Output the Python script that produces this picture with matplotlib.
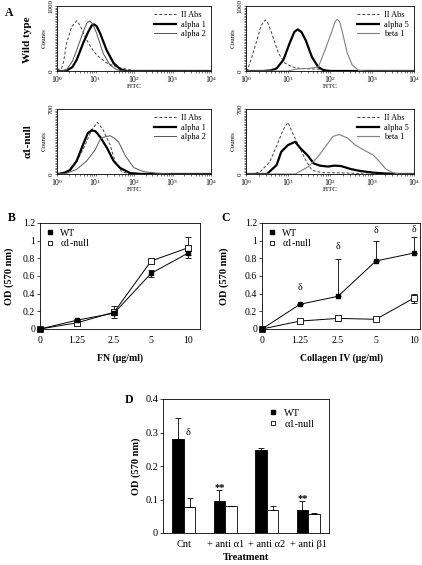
import numpy as np
import matplotlib
matplotlib.use('Agg')
import matplotlib.pyplot as plt
from matplotlib.ticker import MultipleLocator, LogLocator, NullFormatter
from matplotlib.lines import Line2D

plt.rcParams['font.family'] = ['Liberation Serif', 'DejaVu Serif']
plt.rcParams['mathtext.fontset'] = 'stix'

W, H = 422, 565

# ---- panel A: flow histograms (x in decades of FITC, y in counts) ----
# wild type, alpha 1 / alpha 2
wt12_abs_dec = [0, 0.05, 0.12, 0.17, 0.25, 0.38, 0.51, 0.6, 0.77, 0.9, 1.03, 1.29, 1.64, 1.98, 2.3, 4]
wt12_abs_cnt = [10, 30, 40, 140, 430, 680, 774, 700, 477, 350, 246, 123, 46, 10, 0, 0]
wt12_a1_dec = [0, 0.15, 0.25, 0.4, 0.51, 0.68, 0.81, 0.9, 0.96, 1.03, 1.12, 1.29, 1.47, 1.64, 1.8, 4]
wt12_a1_cnt = [0, 0, 5, 60, 170, 430, 600, 700, 718, 690, 580, 320, 120, 30, 0, 0]
wt12_a2_dec = [0, 0.15, 0.25, 0.4, 0.51, 0.68, 0.78, 0.85, 0.93, 1.03, 1.2, 1.38, 1.55, 1.7, 4]
wt12_a2_cnt = [0, 5, 20, 150, 320, 600, 740, 770, 720, 580, 270, 90, 20, 0, 0]

# wild type, alpha 5 / beta 1
wt5b_abs_dec = [0, 0.03, 0.14, 0.26, 0.36, 0.46, 0.52, 0.61, 0.77, 0.92, 1.11, 1.3, 1.6, 1.8, 1.95, 4]
wt5b_abs_cnt = [0, 10, 215, 477, 700, 785, 740, 585, 277, 123, 60, 40, 30, 25, 0, 0]
wt5b_a5_dec = [0, 0.42, 0.6, 0.73, 0.89, 1.04, 1.15, 1.23, 1.32, 1.42, 1.57, 1.72, 1.84, 2.0, 4]
wt5b_a5_cnt = [0, 0, 10, 40, 170, 430, 600, 640, 600, 477, 215, 60, 15, 0, 0]
wt5b_b1_dec = [0, 1.0, 1.2, 1.5, 1.72, 1.88, 2.03, 2.12, 2.17, 2.23, 2.3, 2.41, 2.53, 2.68, 2.85, 4]
wt5b_b1_cnt = [0, 0, 30, 40, 60, 320, 585, 760, 795, 760, 585, 277, 92, 10, 0, 0]

# alpha1-null, alpha 1 / alpha 2
ko12_abs_dec = [0, 0.25, 0.51, 0.73, 0.9, 1.05, 1.2, 1.38, 1.51, 1.68, 1.9, 4]
ko12_abs_cnt = [0, 20, 132, 312, 474, 556, 474, 312, 132, 25, 0, 0]
ko12_a1_dec = [0, 0.03, 0.2, 0.34, 0.51, 0.68, 0.8, 0.9, 1.0, 1.12, 1.3, 1.47, 1.64, 1.9, 2.2, 4]
ko12_a1_cnt = [0, 0, 15, 43, 140, 320, 440, 470, 460, 400, 280, 140, 65, 10, 0, 0]
ko12_a2_dec = [0, 0.25, 0.51, 0.77, 0.99, 1.12, 1.2, 1.3, 1.38, 1.48, 1.6, 1.77, 1.99, 2.25, 2.6, 3.0, 4]
ko12_a2_cnt = [0, 8, 50, 140, 260, 370, 395, 405, 412, 390, 345, 200, 70, 25, 8, 0, 0]

# alpha1-null, alpha 5 / beta 1
ko5b_abs_dec = [0, 0.2, 0.34, 0.57, 0.77, 0.88, 1.0, 1.11, 1.26, 1.42, 1.57, 1.8, 2.5, 2.8, 4]
ko5b_abs_cnt = [0, 5, 25, 132, 347, 474, 556, 440, 300, 150, 40, 15, 10, 0, 0]
ko5b_a5_dec = [0, 0.5, 0.73, 0.84, 1.0, 1.17, 1.3, 1.46, 1.61, 1.76, 1.95, 2.1, 2.26, 2.49, 2.72, 3.03, 3.33, 3.6, 4]
ko5b_a5_cnt = [0, 0, 97, 240, 312, 347, 275, 204, 115, 90, 80, 90, 86, 54, 32, 15, 5, 0, 0]
ko5b_b1_dec = [0, 1.17, 1.49, 1.72, 1.92, 2.07, 2.22, 2.41, 2.6, 2.8, 3.03, 3.18, 3.33, 3.49, 3.65, 4]
ko5b_b1_cnt = [0, 0, 80, 190, 312, 405, 425, 390, 312, 260, 204, 132, 54, 15, 0, 0]

# ---- panels B / C: adhesion curves ----
conc_labels = ['0', '1.25', '2.5', '5', '10']
od_ticks = [0, 0.2, 0.4, 0.6, 0.8, 1.0, 1.2]
od_tick_labels = ['0', '0.2', '0.4', '0.6', '0.8', '1', '1.2']

fn_wt = [0.0, 0.10, 0.18, 0.63, 0.86]
fn_wt_err = [0, 0.01, 0.02, 0.04, 0.02]
fn_null = [0.0, 0.07, 0.19, 0.77, 0.92]
fn_null_err = [0, 0.01, 0.07, 0.02, 0.12]

col_wt = [0.0, 0.28, 0.37, 0.77, 0.86]
col_wt_err = [0, 0.0, 0.42, 0.23, 0.18]
col_null = [0.0, 0.09, 0.12, 0.11, 0.35]
col_null_err = [0, 0.01, 0.03, 0.01, 0.05]

# ---- panel D: antibody blocking ----
treat_labels = ['Cnt', '+ anti \u03b11', '+ anti \u03b12', '+ anti \u03b21']
bar_wt = [0.28, 0.095, 0.247, 0.068]
bar_wt_err = [0.063, 0.032, 0.006, 0.027]
bar_null = [0.078, 0.082, 0.07, 0.057]
bar_null_err = [0.026, 0.0, 0.01, 0.003]


def rect(l, t, r, b):
    return [l / W, 1 - b / H, (r - l) / W, (b - t) / H]


fig = plt.figure(figsize=(4.22, 5.65), dpi=100)

abs_style = dict(color='#444444', lw=0.7, ls=(0, (3, 2)))
thick_style = dict(color='black', lw=1.6)
thin_style = dict(color='#555555', lw=0.7)
gray_style = dict(color='#808080', lw=0.8)


def flow_panel(box, ymax, curves):
    ax = fig.add_axes(rect(*box))
    for dec, cnt, style, lab in curves:
        ax.plot(10 ** np.array(dec), cnt, label=lab, **style)
    ax.set_xscale('log')
    ax.set_xlim(1, 1e4)
    ax.set_ylim(0, ymax)
    ax.xaxis.set_major_locator(LogLocator(base=10, numticks=6))
    ax.xaxis.set_minor_locator(LogLocator(base=10, subs=np.arange(2, 10), numticks=10))
    ax.xaxis.set_minor_formatter(NullFormatter())
    ax.set_yticks([0, ymax])
    ax.set_yticklabels(['0', str(ymax)], rotation=90, va='center', fontsize=5)
    ax.yaxis.set_minor_locator(MultipleLocator(ymax / 40))
    ax.tick_params(which='both', direction='out', length=1.5, width=0.4, pad=1)
    ax.tick_params(axis='x', labelsize=5.5)
    for s in ax.spines.values():
        s.set_linewidth(0.6)
    ax.set_xlabel('FITC', fontsize=5, labelpad=-1)
    ax.set_ylabel('Counts', fontsize=5, labelpad=1)
    ax.legend(loc='upper right', fontsize=6, frameon=False, handlelength=2.6,
              labelspacing=0.2, borderaxespad=0.2, handletextpad=0.6)
    return ax


flow_panel((57, 6, 211, 71), 1000, [
    (wt12_abs_dec, wt12_abs_cnt, abs_style, 'II Abs'),
    (wt12_a1_dec, wt12_a1_cnt, thick_style, 'alpha 1'),
    (wt12_a2_dec, wt12_a2_cnt, thin_style, 'alpha 2')])
flow_panel((246, 6, 414, 71), 1000, [
    (wt5b_abs_dec, wt5b_abs_cnt, abs_style, 'II Abs'),
    (wt5b_a5_dec, wt5b_a5_cnt, thick_style, 'alpha 5'),
    (wt5b_b1_dec, wt5b_b1_cnt, gray_style, 'beta 1')])
flow_panel((57, 109, 211, 174), 700, [
    (ko12_abs_dec, ko12_abs_cnt, abs_style, 'II Abs'),
    (ko12_a1_dec, ko12_a1_cnt, thick_style, 'alpha 1'),
    (ko12_a2_dec, ko12_a2_cnt, thin_style, 'alpha 2')])
flow_panel((246, 109, 414, 174), 700, [
    (ko5b_abs_dec, ko5b_abs_cnt, abs_style, 'II Abs'),
    (ko5b_a5_dec, ko5b_a5_cnt, thick_style, 'alpha 5'),
    (ko5b_b1_dec, ko5b_b1_cnt, gray_style, 'beta 1')])

fig.text(28 / W, 1 - 40 / H, 'Wild type', rotation=90, ha='center', va='center',
         fontsize=8, fontweight='bold')
fig.text(28 / W, 1 - 141 / H, '\u03b11-null', rotation=90, ha='center', va='center',
         fontsize=8, fontweight='bold')

# ---- B and C ----
legend_handles = [
    Line2D([], [], marker='s', ls='none', color='black', mfc='black', ms=3.5),
    Line2D([], [], marker='s', ls='none', color='black', mfc='white', ms=3.5, mew=0.6)]
legend_names = ['WT', '\u03b11-null']


def od_panel(box, wt, wt_err, null, null_err, xlab, ylabpad, xmax):
    ax = fig.add_axes(rect(*box))
    x = np.arange(len(conc_labels))
    ax.errorbar(x, null, yerr=null_err, color='black', lw=0.7, elinewidth=0.6,
                capsize=2, capthick=0.6, marker='s', ms=4, mfc='white', mec='black',
                mew=0.6, clip_on=False, zorder=3)
    ax.errorbar(x, wt, yerr=wt_err, color='black', lw=0.7, elinewidth=0.6,
                capsize=2, capthick=0.6, marker='s', ms=3.5, mfc='black', mec='black',
                clip_on=False, zorder=4)
    ax.set_xlim(0, xmax)
    ax.set_ylim(0, 1.2)
    ax.set_xticks(x)
    ax.set_xticklabels(conc_labels, fontsize=7)
    ax.set_yticks(od_ticks)
    ax.set_yticklabels(od_tick_labels, fontsize=7)
    ax.tick_params(axis='x', length=0, pad=5)
    ax.tick_params(axis='y', direction='out', length=2, width=0.5, pad=1.5)
    for s in ax.spines.values():
        s.set_linewidth(0.6)
    ax.set_xlabel(xlab, fontsize=7, fontweight='bold', labelpad=6)
    ax.set_ylabel('OD (570 nm)', fontsize=7.5, fontweight='bold', labelpad=ylabpad)
    ax.legend(legend_handles, legend_names, loc='upper left', fontsize=7,
              frameon=False, handlelength=0.8, handletextpad=0.7, labelspacing=0.15,
              borderaxespad=0.2)
    return ax


ax_b = od_panel((40, 223, 200, 329), fn_wt, fn_wt_err, fn_null, fn_null_err,
                'FN (\u00b5g/ml)', 6, 4.32)
col_wt_yerr = [np.zeros(len(col_wt)), col_wt_err]
ax_c = od_panel((262, 223, 420, 329), col_wt, col_wt_yerr, col_null, col_null_err,
                'Collagen IV (\u00b5g/ml)', 11, 4.16)
for xi, yi in [(1, 0.47), (2, 0.93), (3, 1.12), (4, 1.13)]:
    ax_c.text(xi, yi, '\u03b4', ha='center', va='center', fontsize=7)

# ---- D ----
ax_d = fig.add_axes(rect(163, 399, 329, 533))
xd = np.arange(len(treat_labels))
bw = 0.28
ax_d.bar(xd - bw / 2, bar_wt, bw, color='black', edgecolor='black', lw=0.6,
         yerr=[np.zeros(4), bar_wt_err], capsize=2,
         error_kw=dict(elinewidth=0.6, capthick=0.6, ecolor='black'))
ax_d.bar(xd + bw / 2, bar_null, bw, color='white', edgecolor='black', lw=0.6,
         yerr=[np.zeros(4), bar_null_err], capsize=2,
         error_kw=dict(elinewidth=0.6, capthick=0.6, ecolor='black'))
ax_d.set_xlim(-0.5, 3.5)
ax_d.set_ylim(0, 0.4)
ax_d.set_xticks(xd)
ax_d.set_xticklabels(treat_labels, fontsize=7.5)
ax_d.set_yticks([0, 0.1, 0.2, 0.3, 0.4])
ax_d.set_yticklabels(['0', '0.1', '0.2', '0.3', '0.4'], fontsize=7.5)
ax_d.tick_params(axis='x', length=0, pad=5)
ax_d.tick_params(axis='y', direction='out', length=2, width=0.5, pad=1.5)
for s in ax_d.spines.values():
    s.set_linewidth(0.6)
ax_d.set_xlabel('Treatment', fontsize=7.5, fontweight='bold', labelpad=3)
ax_d.set_ylabel('OD (570 nm)', fontsize=7.5, fontweight='bold', labelpad=3)
ax_d.legend(legend_handles, legend_names, loc='upper left', bbox_to_anchor=(0.58, 1.0),
            fontsize=7.5, frameon=False, handlelength=0.8, handletextpad=0.7,
            labelspacing=0.15)
ax_d.text(0.05, 0.30, '\u03b4', ha='left', va='center', fontsize=7.5)
ax_d.text(1 - bw / 2, 0.137, '**', ha='center', va='center', fontsize=7.5, fontweight='bold')
ax_d.text(3 - bw / 2, 0.104, '**', ha='center', va='center', fontsize=7.5, fontweight='bold')

# panel letters
for lx, ly, letter in [(5, 13, 'A'), (8, 218, 'B'), (221, 218, 'C'), (125, 400, 'D')]:
    fig.text(lx / W, 1 - ly / H, letter, ha='left', va='center', fontsize=8.5,
             fontweight='bold')

fig.savefig('out.png', dpi=100)
